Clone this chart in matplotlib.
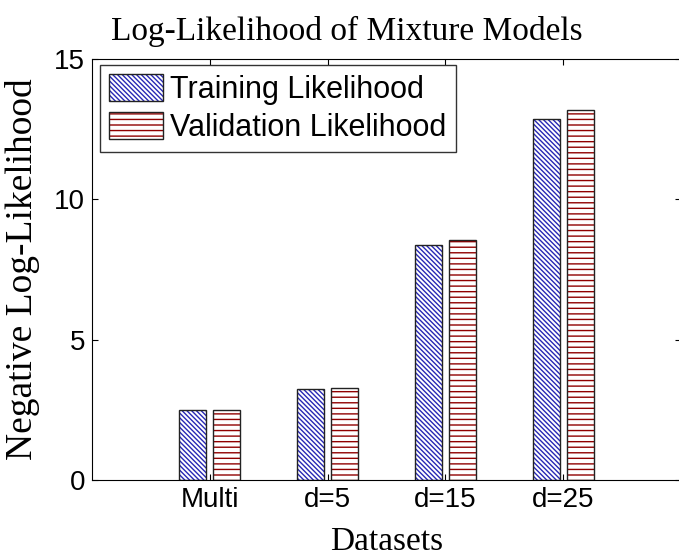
import numpy as np
import matplotlib
matplotlib.use("Agg")
import matplotlib.pyplot as plt
from matplotlib.patches import Patch

datasets = ["Multi", "d=5", "d=15", "d=25"]
train_nll = [2.49, 3.26, 8.38, 12.88]
valid_nll = [2.51, 3.27, 8.56, 13.18]

plt.rcParams["hatch.linewidth"] = 1.0

fig = plt.figure(figsize=(6.79, 5.59), dpi=100)
# right spine sits just outside the image, like the cropped original
ax = fig.add_axes([92 / 679, 79 / 559, 589 / 679, 421 / 559])

x = np.arange(1, len(datasets) + 1)
w = 0.23
off = 0.144
blue = "#2828b4"
red = "#900000"
outline = "#222222"

# hatch layer first, then a dark outline on top
ax.bar(x - off, train_nll, w, color="white", edgecolor=blue,
       hatch="\\" * 7, linewidth=0)
ax.bar(x + off, valid_nll, w, color="white", edgecolor=red,
       hatch="---", linewidth=0)
ax.bar(x - off, train_nll, w, fill=False, edgecolor=outline, linewidth=1.0)
ax.bar(x + off, valid_nll, w, fill=False, edgecolor=outline, linewidth=1.0)

ax.set_xlim(0, 5.0)
ax.set_ylim(0, 15)
ax.set_xticks(x)
ax.set_xticklabels(datasets)
ax.set_yticks([0, 5, 10, 15])
ax.tick_params(direction="in", top=True, right=True, length=4, width=0.8,
               labelsize=20, labelfontfamily="Liberation Sans", pad=5)
for s in ax.spines.values():
    s.set_linewidth(0.8)

ax.set_title("Log-Likelihood of Mixture Models", family="Liberation Serif",
             fontsize=24, pad=14, x=(347 - 92) / 589)
ax.set_xlabel("Datasets", family="Liberation Serif", fontsize=24, labelpad=10)
ax.set_ylabel("Negative Log-Likelihood", family="Liberation Serif",
              fontsize=27, labelpad=10)

handles = [
    (Patch(facecolor="white", edgecolor=blue, hatch="\\" * 7, linewidth=0),
     Patch(fill=False, edgecolor=outline, linewidth=1.0)),
    (Patch(facecolor="white", edgecolor=red, hatch="---", linewidth=0),
     Patch(fill=False, edgecolor=outline, linewidth=1.0)),
]
leg = ax.legend(handles, ["Training Likelihood", "Validation Likelihood"],
                loc="upper left", bbox_to_anchor=(8 / 589, 1 - 6 / 421),
                borderaxespad=0, fancybox=False, edgecolor="#333333",
                framealpha=1, handlelength=1.75, handleheight=0.95,
                handletextpad=0.25, borderpad=0.3, labelspacing=0.25,
                prop={"family": "Liberation Sans", "size": 22})
leg.get_frame().set_linewidth(1.0)

fig.savefig("out.png", dpi=100)
